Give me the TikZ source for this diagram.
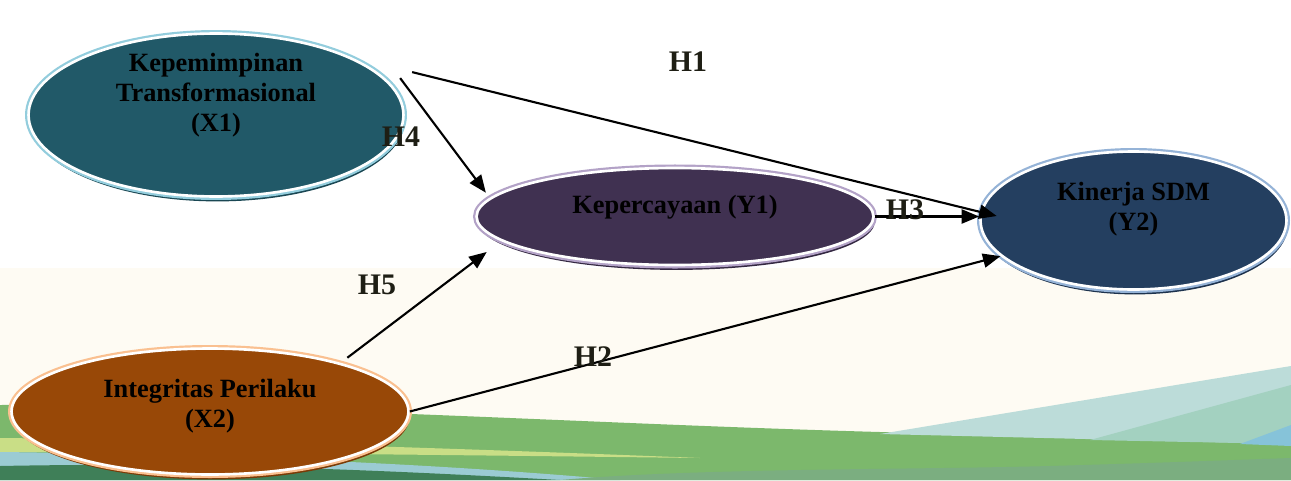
\documentclass[tikz,border=0pt]{standalone}
\usepackage{fontspec}
\setmainfont{Liberation Serif}
\usetikzlibrary{shapes.geometric, arrows.meta, shadows}

\definecolor{xonefill}{HTML}{215968}
\definecolor{xoneline}{HTML}{93CDDD}
\definecolor{yonefill}{HTML}{403151}
\definecolor{yoneline}{HTML}{B3A2C7}
\definecolor{ytwofill}{HTML}{243F60}
\definecolor{ytwoline}{HTML}{95B3D7}
\definecolor{xtwofill}{HTML}{984807}
\definecolor{xtwoline}{HTML}{FAC090}
\definecolor{cream}{HTML}{FEFBF3}
\definecolor{hcol}{HTML}{1E1E14}

\begin{document}
\begin{tikzpicture}[x=0.02cm, y=-0.02cm,
  var/.style 2 args={ellipse, inner sep=0pt, fill=#1, draw=white, line width=1.5pt,
    drop shadow={shadow xshift=0.8pt, shadow yshift=-2.8pt, fill=#1!80!black, opacity=1},
    preaction={draw=#2, line width=4pt}},
  lbl/.style={align=center, font=\bfseries\fontsize{15}{17}\selectfont},
  hyp/.style={text=hcol, font=\bfseries\fontsize{17}{20}\selectfont},
  conn/.style={line width=1.2pt, -{Triangle[length=10pt,width=8pt]}}]

    \useasboundingbox (0,0) rectangle (1291,480);

    % background
    \fill[white] (0,0) rectangle (1291,480);
    \fill[cream] (0,268) rectangle (1291,480);
    \fill[fill={rgb,255:red,124;green,184;blue,108}] (0,405) .. controls (300,404) and (600,425) .. (917,433)
        .. controls (1100,438) .. (1291,442) -- (1291,480) -- (0,480) -- cycle;
    \fill[fill={rgb,255:red,188;green,220;blue,217}] (880,434) -- (1291,366) -- (1291,444) -- cycle;
    \fill[fill={rgb,255:red,163;green,209;blue,192}] (1090,440) -- (1291,385) -- (1291,444) -- cycle;
    \fill[fill={rgb,255:red,134;green,195;blue,217}] (1240,444) -- (1291,425) -- (1291,446) -- cycle;
    \fill[fill={rgb,255:red,201;green,222;blue,134}] (0,438) .. controls (200,440) and (450,448) .. (700,458)
        .. controls (450,455) and (200,452) .. (0,452) -- cycle;
    \fill[fill={rgb,255:red,155;green,203;blue,211}] (0,452) .. controls (250,455) and (450,465) .. (620,480) -- (0,480) -- cycle;
    \fill[fill={rgb,255:red,63;green,127;blue,88}] (0,466) .. controls (200,462) and (380,470) .. (560,480) -- (0,480) -- cycle;
    \fill[fill={rgb,255:red,123;green,174;blue,128}] (560,480) .. controls (700,468) and (900,470) .. (1050,466)
        .. controls (1150,463) .. (1291,458) -- (1291,480) -- cycle;

    % variables
    \node[var={xonefill}{xoneline}, minimum width=7.5cm, minimum height=3.26cm] (x1) at (216,115) {};
    \node[var={yonefill}{yoneline}, minimum width=7.94cm, minimum height=1.94cm] (y1) at (675,216.5) {};
    \node[var={ytwofill}{ytwoline}, minimum width=6.12cm, minimum height=2.76cm] (y2) at (1133.5,220.5) {};
    \node[var={xtwofill}{xtwoline}, minimum width=7.94cm, minimum height=2.52cm] (x2) at (210,411.5) {};

    \node[lbl] (x1t) at ([yshift=0.4cm]x1.center) {Kepemimpinan\\Transformasional\\(X1)};
    \node[lbl] (y1t) at ([yshift=0.18cm]y1.center) {Kepercayaan (Y1)};
    \node[lbl] (y2t) at ([yshift=0.22cm]y2.center) {Kinerja SDM\\(Y2)};
    \node[lbl] (x2t) at ([yshift=0.1cm]x2.center) {Integritas Perilaku\\(X2)};

    % paths
    \path[conn]
    ([xshift=0.42cm, yshift=0.24cm]x1.10) edge ([xshift=0.35cm, yshift=0.09cm]y2.west) % H1
    ([xshift=0.18cm, yshift=0.12cm]x1.10) edge ([xshift=-0.52cm, yshift=-0.1cm]y1.170) % H4
    (y1.east) edge (y1.east -| y2.west) % H3
    ([xshift=0.18cm, yshift=0.09cm]x2.21) edge ([xshift=0.23cm, yshift=-0.71cm]y1.west) % H5
    (x2.east) edge (y2.195); % H2

    \node[hyp] (h1) at (688,62) {H1};
    \node[hyp] (h2) at (593,357) {H2};
    \node[hyp] (h3) at (905,210) {H3};
    \node[hyp] (h4) at (401,137) {H4};
    \node[hyp] (h5) at (377,285) {H5};
\end{tikzpicture}
\end{document}
